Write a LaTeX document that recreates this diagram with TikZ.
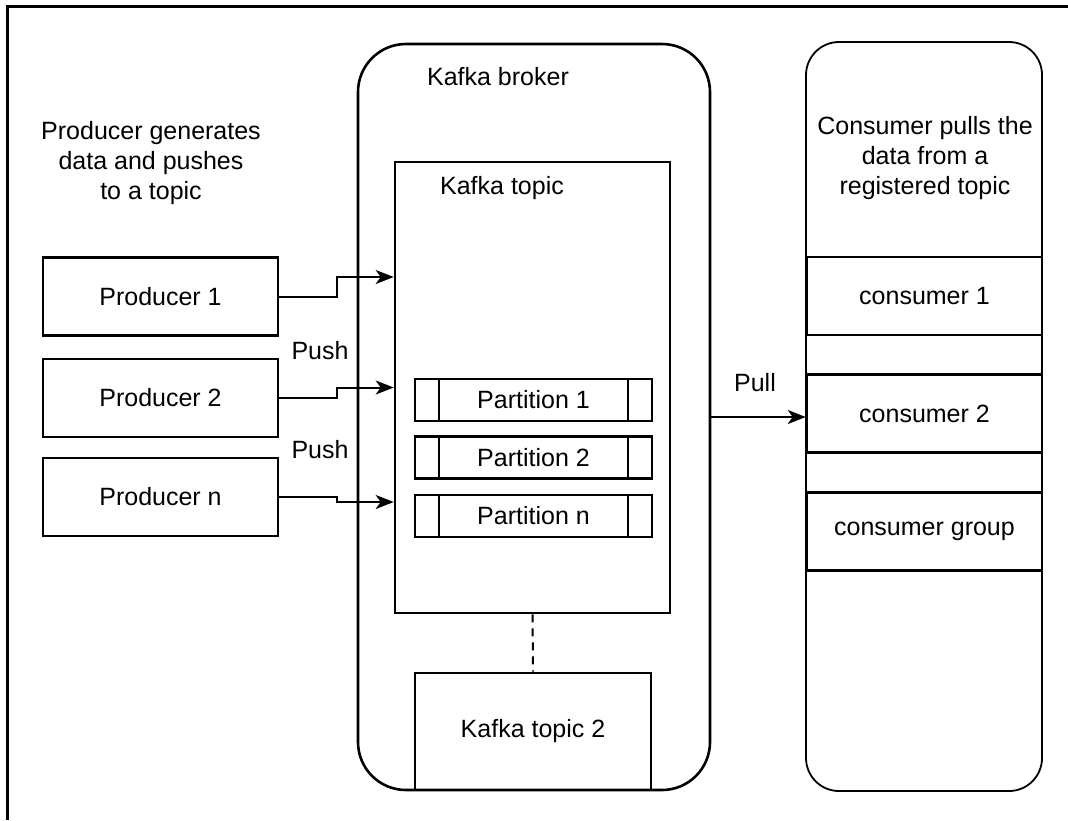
\documentclass[tikz,border=0pt]{standalone}
\usepackage{fontspec}
\setmainfont{Liberation Sans}
\usepackage{tikz}
\usetikzlibrary{calc,arrows.meta}
\definecolor{ink}{HTML}{000000}
\tikzset{
  frame/.style={draw=ink, line width=1.5pt},
  box/.style={draw=ink, line width=1.3pt, inner sep=0pt, minimum width=117.5pt, minimum height=39pt, font=\fontsize{12.5}{15}\selectfont},
  broker/.style={draw=ink, line width=1.3pt, rounded corners=24pt, minimum width=176pt, minimum height=373pt},
  group/.style={draw=ink, line width=0.9pt, rounded corners=16.5pt, minimum width=118pt, minimum height=374.5pt},
  topic/.style={draw=ink, line width=1.3pt, minimum width=137.5pt, minimum height=225.5pt},
  partbox/.style={draw=ink, line width=1.3pt, inner sep=0pt, minimum width=118.5pt, minimum height=21pt,
    font=\fontsize{12.5}{15}\selectfont,
    path picture={
      \draw[line width=1.3pt] ([xshift=12pt]path picture bounding box.north west) -- ([xshift=12pt]path picture bounding box.south west);
      \draw[line width=1.3pt] ([xshift=-12pt]path picture bounding box.north east) -- ([xshift=-12pt]path picture bounding box.south east);
    }},
  lbl/.style={text=ink, align=center, font=\fontsize{12.5}{15}\selectfont},
  flow/.style={draw=ink, line width=1pt, -{Stealth[length=9pt, width=7pt, inset=2.5pt]}}
}

\begin{document}
\begin{tikzpicture}[x=0.5pt, y=-0.5pt]
\useasboundingbox (0,0) rectangle (1068,820);
\draw[frame] (7,820) -- (7,6) -- (1068,6);

\node[broker] (broker) at (534,417) {};
\node[lbl] (brokertxt) at (498,77) {Kafka broker};
\node[group] (cgroup) at (924,416.5) {};

\node[lbl] (prodtxt) at (151,163) {Producer generates\\data and pushes\\to a topic};
\node[lbl] (constxt) at (925,158) {Consumer pulls the\\data from a\\registered topic};

\node[box] (p1) at (160.5,296.5) {Producer 1};
\node[box] (p2) at (160.5,398) {Producer 2};
\node[box] (pn) at (160.5,497) {Producer n};

\node[topic] (topic) at (532.5,387.5) {};
\node[lbl] (topictxt) at (502,188) {Kafka topic};
\node[partbox] (part1) at (533.5,400) {Partition 1};
\node[partbox] (part2) at (533.5,457.5) {Partition 2};
\node[partbox] (partn) at (533.5,516) {Partition n};
\node[box, minimum width=118pt, minimum height=58.5pt] (topic2) at (533,731.5) {Kafka topic 2};
\draw[line width=1pt, dash pattern=on 4pt off 3pt] (topic.south) -- (topic2.north);

\node[box] (c1) at (924.5,296) {consumer 1};
\node[box] (c2) at (924.5,413.5) {consumer 2};
\node[box] (cg) at (924.5,531.5) {consumer group};

% push into the topic
\coordinate (t1) at (topic.west |- 0,277);
\coordinate (t2) at (topic.west);
\coordinate (t3) at (topic.west |- 0,502);
\draw[flow] (p1.east) -| ($(p1.east)!.5!(t1)$) |- (t1);
\draw[flow] (p2.east) -| ($(p2.east)!.5!(t2)$) |- (t2);
\draw[flow] (pn.east) -| ($(pn.east)!.5!(t3)$) |- (t3);
\node[lbl] (push1) at (320,351) {Push};
\node[lbl] (push2) at (320,450) {Push};

% pull from the broker
\draw[flow] (broker.east) -- (broker.east -| c2.west);
\node[lbl] (pull) at (755,383) {Pull};
\end{tikzpicture}
\end{document}
